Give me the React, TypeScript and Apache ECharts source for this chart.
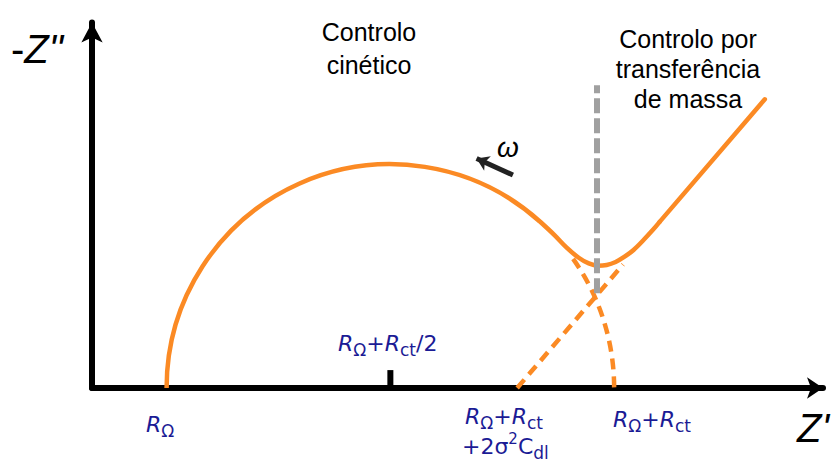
import { useEffect, useRef } from 'react';
import * as echarts from 'echarts';

// Equivalent-circuit values, in units of R_Ω
const R_OHM = 1;
const R_CT = 6;

// Axis extents (impedance units)
const X_MAX = 9.8;
const Y_MAX = 4.9;

// Real-axis span of the semicircle drawn solid (kinetic control) and dashed (extrapolation)
const semicircleSolidSpan = [R_OHM, 6.0];
const semicircleDashedSpan = [6.45, R_OHM + R_CT];

// Warburg line: extrapolated part down to the real axis, and the solid low-frequency part
const warburgDashed = [
  [5.7, 0],
  [7.12, 1.656],
];
const warburgSolid = [
  [7.61, 2.227],
  [9.02, 3.87],
];

// Where the arc bends over into the Warburg line
const transitionCurve = [
  [6.005, 2.232],
  [6.2, 2.05],
  [6.36, 1.885],
  [6.52, 1.75],
  [6.66, 1.67],
  [6.78, 1.64],
  [6.9, 1.65],
  [7.02, 1.69],
  [7.14, 1.76],
  [7.26, 1.85],
  [7.4, 1.99],
  [7.52, 2.12],
  [7.61, 2.227],
];

// Boundary between kinetic and mass-transfer control
const controlBoundary = [
  [6.77, 1.27],
  [6.77, 4.06],
];

// Tick under the apex of the semicircle, R_Ω + R_ct/2
const apexTick = [
  [R_OHM + R_CT / 2, 0],
  [R_OHM + R_CT / 2, 0.24],
];

// Direction of increasing frequency
const omegaArrow = [
  [5.643, 2.855],
  [5.156, 3.078],
];

const ORANGE = '#fb8a24';
const BLUE = '#1b1b95';
const SANS = '"Liberation Sans", Arial, sans-serif';
const LABEL_FONT = '"DejaVu Sans", sans-serif';

const blueRich = {
  i: { fontFamily: LABEL_FONT, fontSize: 22, fontStyle: 'italic', fill: BLUE, lineHeight: 30, verticalAlign: 'middle' },
  n: { fontFamily: LABEL_FONT, fontSize: 22, fill: BLUE, lineHeight: 30, verticalAlign: 'middle' },
  s: { fontFamily: LABEL_FONT, fontSize: 17, fill: BLUE, lineHeight: 14, verticalAlign: 'bottom' },
  p: { fontFamily: LABEL_FONT, fontSize: 15, fill: BLUE, lineHeight: 22, verticalAlign: 'top' },
};

const axisRich = {
  i: { fontFamily: SANS, fontSize: 40, fontStyle: 'italic', fill: '#000', lineHeight: 44 },
  n: { fontFamily: SANS, fontSize: 40, fill: '#000', lineHeight: 44 },
};

function richText(x: number, y: number, text: string, rich: any) {
  return {
    type: 'text',
    x,
    y,
    silent: true,
    style: {
      text,
      rich,
      align: 'left',
      verticalAlign: 'middle',
      textAlign: 'left',
      textVerticalAlign: 'middle',
    },
  };
}

function plainText(x: number, y: number, text: string, lineHeight: number) {
  return {
    type: 'text',
    x,
    y,
    silent: true,
    style: {
      text,
      font: `25px ${SANS}`,
      fill: '#000',
      lineHeight,
      align: 'center',
      verticalAlign: 'top',
      textAlign: 'center',
      textVerticalAlign: 'top',
    },
  };
}

// Draws a piece of the charge-transfer semicircle between two real-axis values
function arcRenderer(dashed: boolean) {
  return (_params: any, api: any) => {
    const c = R_OHM + R_CT / 2;
    const r = R_CT / 2;
    const x0 = api.value(0);
    const x1 = api.value(1);
    const center = api.coord([c, 0]);
    const rPx = api.size([r, 0])[0];
    const a0 = -Math.acos(Math.max(-1, Math.min(1, (x0 - c) / r)));
    const a1 = -Math.acos(Math.max(-1, Math.min(1, (x1 - c) / r)));
    return {
      type: 'arc',
      shape: { cx: center[0], cy: center[1], r: rPx, startAngle: a0, endAngle: a1, clockwise: true },
      style: {
        fill: 'none',
        stroke: ORANGE,
        lineWidth: 4.5,
        lineDash: dashed ? [11, 7] : null,
      },
    };
  };
}

export default function App() {
  const ref = useRef<HTMLDivElement>(null);

  useEffect(() => {
    if (!ref.current) return;
    const chart = echarts.init(ref.current, undefined, { renderer: 'svg' });

    const option: any = {
      animation: false,
      backgroundColor: '#fff',
      grid: { left: 92, top: 22.5, width: 731, height: 365.5, containLabel: false },
      xAxis: {
        type: 'value',
        min: 0,
        max: X_MAX,
        axisLine: {
          show: true,
          lineStyle: { color: '#000', width: 6 },
          symbol: ['none', 'arrow'],
          symbolSize: [16, 16],
        },
        axisTick: { show: false },
        axisLabel: { show: false },
        splitLine: { show: false },
      },
      yAxis: {
        type: 'value',
        min: 0,
        max: Y_MAX,
        axisLine: {
          show: true,
          lineStyle: { color: '#000', width: 6 },
          symbol: ['none', 'arrow'],
          symbolSize: [16, 20],
        },
        axisTick: { show: false },
        axisLabel: { show: false },
        splitLine: { show: false },
      },
      series: [
        {
          type: 'custom',
          name: 'semicircle',
          renderItem: arcRenderer(false),
          data: [semicircleSolidSpan],
          silent: true,
        },
        {
          type: 'custom',
          name: 'semicircle extrapolated',
          renderItem: arcRenderer(true),
          data: [semicircleDashedSpan],
          silent: true,
        },
        {
          type: 'line',
          name: 'Warburg extrapolated',
          data: warburgDashed,
          symbol: 'none',
          silent: true,
          lineStyle: { color: ORANGE, width: 4.5, type: [11, 7] },
        },
        {
          type: 'line',
          name: 'transition',
          data: transitionCurve,
          symbol: 'none',
          smooth: 0.35,
          silent: true,
          lineStyle: { color: ORANGE, width: 4.5, cap: 'round' },
        },
        {
          type: 'line',
          name: 'Warburg',
          data: warburgSolid,
          symbol: 'none',
          silent: true,
          lineStyle: { color: ORANGE, width: 4.5, cap: 'round' },
        },
        {
          type: 'line',
          name: 'boundary',
          data: controlBoundary,
          symbol: 'none',
          silent: true,
          z: 3,
          lineStyle: { color: '#a0a0a0', width: 6, type: [15, 5] },
        },
        {
          type: 'line',
          name: 'apex tick',
          data: apexTick,
          symbol: 'none',
          silent: true,
          lineStyle: { color: '#000', width: 6 },
        },
        {
          type: 'line',
          name: 'omega',
          data: [],
          symbol: 'none',
          silent: true,
          markLine: {
            silent: true,
            symbol: ['none', 'arrow'],
            symbolSize: [12, 12],
            label: { show: false },
            lineStyle: { color: '#222', width: 5, type: 'solid' },
            data: [[{ coord: omegaArrow[0] }, { coord: omegaArrow[1] }]],
          },
        },
      ],
      graphic: [
        richText(11, 48.8, '{n|-}{i|Z"}', axisRich),
        richText(797, 427.8, "{i|Z'}", axisRich),
        {
          type: 'text',
          x: 497,
          y: 147,
          silent: true,
          style: {
            text: 'ω',
            font: `italic 28px ${SANS}`,
            fill: '#000',
            align: 'left',
            verticalAlign: 'middle',
            textAlign: 'left',
            textVerticalAlign: 'middle',
          },
        },
        plainText(369, 15.7, 'Controlo\ncinético', 32.6),
        plainText(688, 24.4, 'Controlo por\ntransferência\nde massa', 29.85),
        richText(146, 424.4, '{i|R}{s|Ω}', blueRich),
        richText(338, 343, '{i|R}{s|Ω}{n|+}{i|R}{s|ct}{n|/2}', blueRich),
        richText(465, 416.4, '{i|R}{s|Ω}{n|+}{i|R}{s|ct}', blueRich),
        richText(462, 446.4, '{n|+2σ}{p|2}{n|C}{s|dl}', blueRich),
        richText(613, 419, '{i|R}{s|Ω}{n|+}{i|R}{s|ct}', blueRich),
      ],
    };

    chart.setOption(option);
    return () => chart.dispose();
  }, []);

  return (
    <div
      ref={ref}
      style={{ position: 'fixed', left: 0, top: 0, width: 834, height: 465, background: '#fff' }}
    />
  );
}
